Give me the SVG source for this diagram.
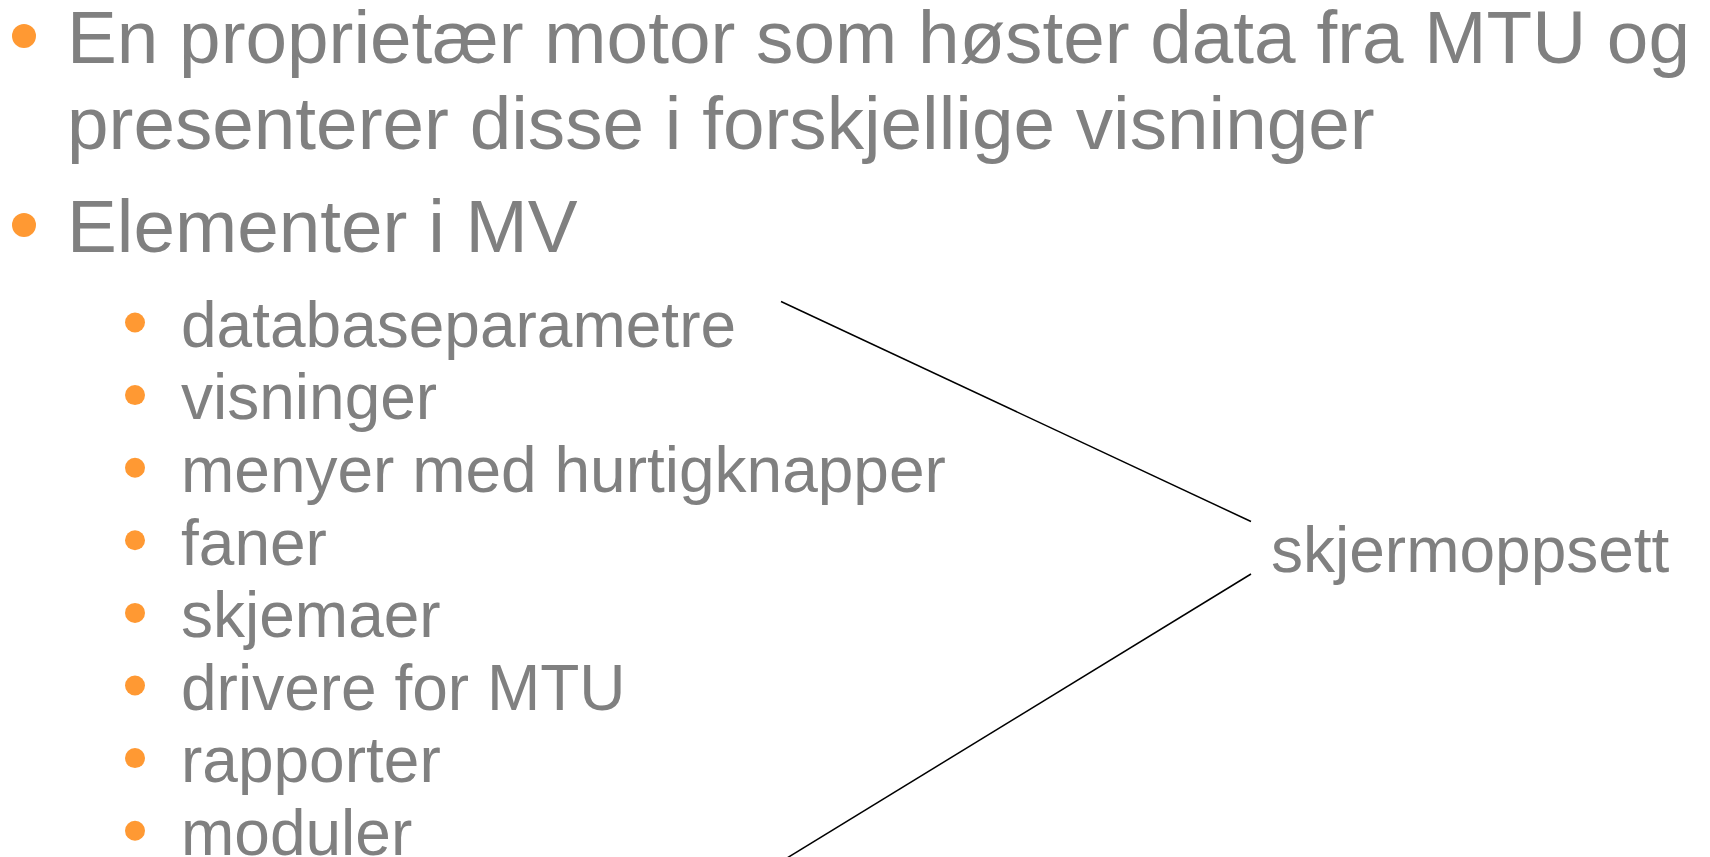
<svg xmlns="http://www.w3.org/2000/svg" width="1710" height="857" viewBox="0 0 1710 857">
  <style>
    .txt { font-family: "Liberation Sans", Arial, sans-serif; fill: #808080; }
    .lvl1 { font-size: 74.7px; }
    .lvl2 { font-size: 64px; }
    .dot { fill: #FF9933; }
    .link { stroke: #000000; stroke-width: 1.5; fill: none; }
  </style>
  <rect width="1710" height="857" fill="#ffffff"/>

  <!-- top-level bullets -->
  <g id="intro">
    <circle class="dot" cx="24" cy="36" r="12"/>
    <text class="txt lvl1" x="67" y="63">En proprietær motor som høster data fra MTU og</text>
    <text class="txt lvl1" x="67" y="149">presenterer disse i forskjellige visninger</text>
  </g>
  <g id="elements-heading">
    <circle class="dot" cx="24" cy="225" r="12"/>
    <text class="txt lvl1" x="67" y="252">Elementer i MV</text>
  </g>

  <!-- element list -->
  <g id="item-databaseparametre">
    <circle class="dot" cx="135" cy="322.5" r="10"/>
    <text class="txt lvl2" x="181" y="346.7">databaseparametre</text>
  </g>
  <g id="item-visninger">
    <circle class="dot" cx="135" cy="395.1" r="10"/>
    <text class="txt lvl2" x="181" y="419.3">visninger</text>
  </g>
  <g id="item-menyer">
    <circle class="dot" cx="135" cy="467.7" r="10"/>
    <text class="txt lvl2" x="181" y="491.9">menyer med hurtigknapper</text>
  </g>
  <g id="item-faner">
    <circle class="dot" cx="135" cy="540.3" r="10"/>
    <text class="txt lvl2" x="181" y="564.5">faner</text>
  </g>
  <g id="item-skjemaer">
    <circle class="dot" cx="135" cy="612.9" r="10"/>
    <text class="txt lvl2" x="181" y="637.1">skjemaer</text>
  </g>
  <g id="item-drivere">
    <circle class="dot" cx="135" cy="685.5" r="10"/>
    <text class="txt lvl2" x="181" y="709.7">drivere for MTU</text>
  </g>
  <g id="item-rapporter">
    <circle class="dot" cx="135" cy="758.1" r="10"/>
    <text class="txt lvl2" x="181" y="782.3">rapporter</text>
  </g>
  <g id="item-moduler">
    <circle class="dot" cx="135" cy="830.7" r="10"/>
    <text class="txt lvl2" x="181" y="854.9">moduler</text>
  </g>

  <!-- grouping label -->
  <g id="skjermoppsett">
    <text class="txt lvl2" x="1271" y="572">skjermoppsett</text>
  </g>

  <!-- bracket lines -->
  <g id="connectors">
    <line class="link" x1="781" y1="301.5" x2="1251" y2="521.5"/>
    <line class="link" x1="1251" y1="574" x2="787" y2="858"/>
  </g>
</svg>
